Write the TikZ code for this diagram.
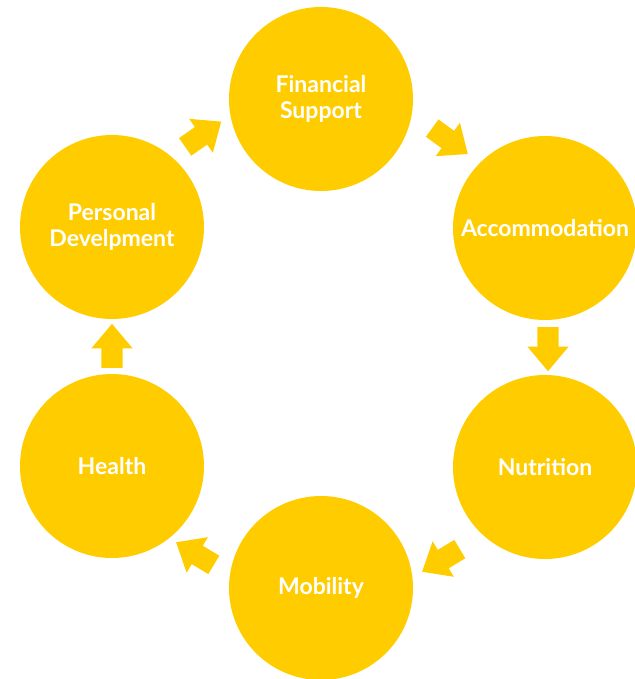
\documentclass[tikz,border=0pt]{standalone}
\usepackage{fontspec}
\setmainfont{Lato}
\usetikzlibrary{shapes.arrows}
\definecolor{sunny}{HTML}{FFCC00}

\begin{document}
\begin{tikzpicture}[
    x=1pt, y=-1pt,
    font=\fontsize{23}{26}\selectfont\bfseries,
    stage/.style={circle, fill=sunny, text=white, minimum size=184pt, inner sep=0pt, align=center},
    hop/.style={single arrow, fill=sunny, anchor=tail, minimum height=44pt, minimum width=41pt,
                single arrow head extend=10pt, single arrow tip angle=80,
                inner xsep=0pt, inner ysep=10.5pt},
  ]
  \useasboundingbox (0,0) rectangle (634,679);

  % Stages of the cycle, clockwise from the top
  \node[stage] (fin) at (321,99) {Financial\\Support};
  \node[stage] (acc) at (545,228) {Accommodation};
  \node[stage] (nut) at (545,467) {Nutrition};
  \node[stage] (mob) at (321,588) {Mobility};
  \node[stage] (hea) at (112,466) {Health};
  \node[stage] (dev) at (112,227) {Personal\\Develpment};

  % Block arrows between neighbouring stages, placed by their tails
  \node[hop, rotate=35]   (dev-fin) at (185,147) {};
  \node[hop, rotate=-36]  (fin-acc) at (432,128) {};
  \node[hop, rotate=-90]  (acc-nut) at (548,327) {};
  \node[hop, rotate=-149] (nut-mob) at (460,549) {};
  \node[hop, rotate=149]  (mob-hea) at (214,565) {};
  \node[hop, rotate=90]   (hea-dev) at (112,368) {};

\end{tikzpicture}
\end{document}
